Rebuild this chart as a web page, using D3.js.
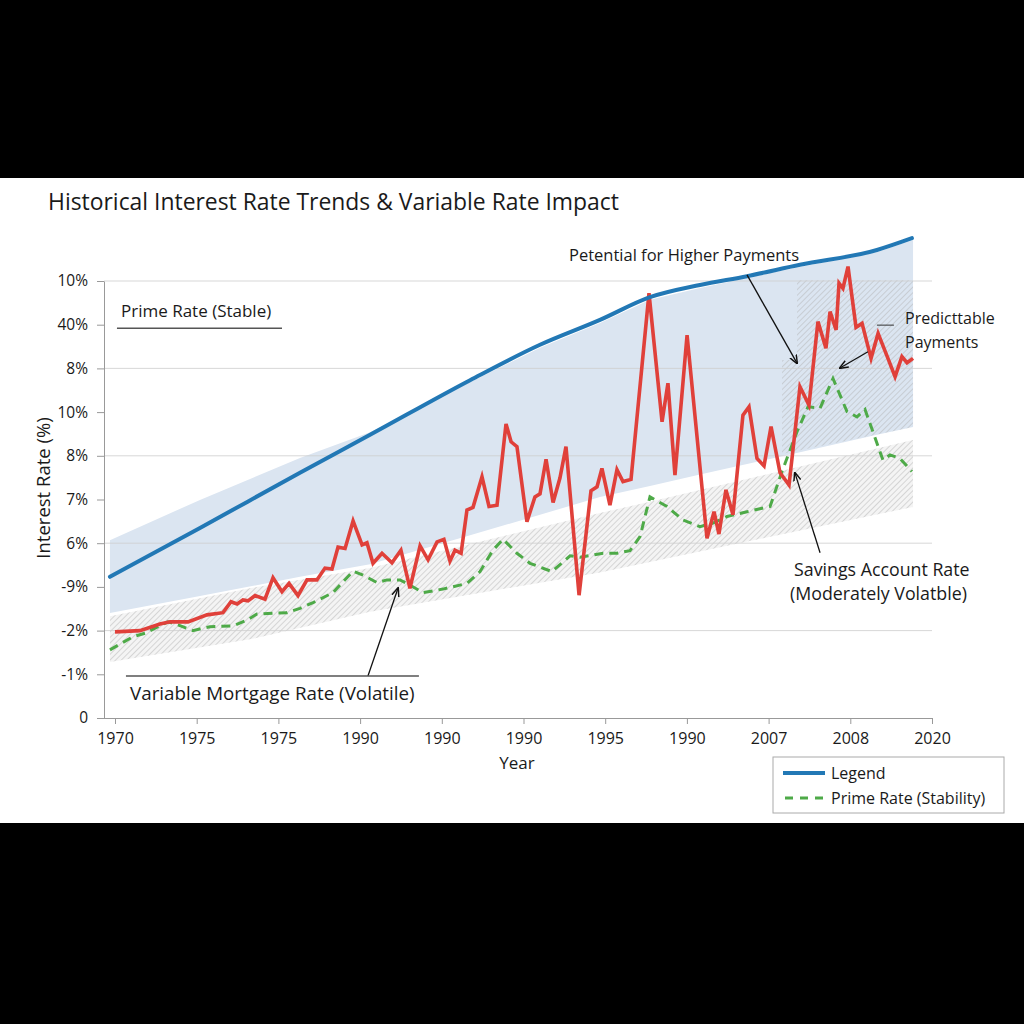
<!DOCTYPE html>
<html>
<head>
<meta charset="utf-8">
<script src="https://cdn.jsdelivr.net/npm/d3@7"></script>
<style>
  body { margin: 0; background: #000; }
  svg { display: block; }
  text { font-family: "Open Sans", "Noto Sans", sans-serif; fill: #1a1a1a; }
</style>
</head>
<body>
<svg id="chart" width="1024" height="1024"></svg>
<script>
// tick labels as printed on the chart
var xTickLabels = ["1970","1975","1975","1990","1990","1990","1995","1990","2007","2008","2020"];
var yTickLabels = ["0","-1%","-2%","-9%","6%","7%","8%","10%","8%","40%","10%"];

// variable mortgage rate (red), [year, value]
var mortgageYears = [1970.00,1971.53,1972.75,1973.37,1974.47,1975.63,1976.61,1977.10,1977.47,1977.83,1978.14,1978.57,1979.18,1979.67,1980.22,1980.65,1981.20,1981.75,1982.36,1982.85,1983.28,1983.65,1984.08,1984.57,1985.12,1985.42,1985.79,1986.34,1986.95,1987.50,1988.05,1988.67,1989.16,1989.71,1990.13,1990.50,1990.81,1991.18,1991.54,1991.91,1992.46,1992.89,1993.38,1993.93,1994.24,1994.60,1995.21,1995.70,1996.01,1996.38,1996.81,1997.23,1997.60,1998.40,1999.13,1999.50,1999.80,2000.29,2000.72,2001.09,2001.58,2002.68,2003.48,2003.84,2004.27,2005.01,2006.23,2006.66,2006.96,2007.39,2007.82,2008.43,2008.80,2009.29,2009.72,2010.15,2010.70,2011.25,2011.92,2012.47,2013.02,2013.51,2013.76,2014.13,2014.31,2014.55,2014.86,2015.35,2015.72,2016.27,2016.70,2017.25,2017.74,2018.16,2018.47,2018.84];
var mortgageRates = [1.97,2.00,2.15,2.20,2.20,2.36,2.41,2.66,2.61,2.70,2.68,2.80,2.72,3.21,2.89,3.08,2.80,3.16,3.16,3.43,3.41,3.91,3.88,4.51,3.96,4.01,3.54,3.77,3.55,3.84,2.97,3.94,3.62,4.03,4.09,3.59,3.84,3.77,4.76,4.82,5.52,4.84,4.87,6.73,6.32,6.21,4.49,5.06,5.13,5.92,4.93,5.49,6.21,2.81,5.20,5.29,5.71,4.87,5.68,5.41,5.46,9.72,6.78,7.66,5.56,8.76,4.11,4.72,4.21,5.22,4.65,6.93,7.12,5.94,5.77,6.67,5.61,5.33,7.58,7.16,9.07,8.46,9.30,8.88,9.95,9.83,10.33,8.94,9.03,8.23,8.80,8.28,7.81,8.27,8.13,8.23];

// prime rate, stability (green dashed)
var primeYears = [1969.69,1971.10,1971.84,1972.63,1973.24,1973.86,1974.77,1975.81,1977.22,1978.08,1978.69,1979.67,1980.53,1981.32,1982.12,1983.34,1984.57,1985.18,1986.03,1986.65,1987.44,1988.05,1988.85,1990.07,1991.54,1992.34,1993.13,1993.75,1994.60,1995.40,1996.74,1997.85,1998.46,1999.87,2000.72,2001.52,2002.13,2002.74,2003.78,2004.76,2005.80,2006.60,2007.45,2008.68,2010.09,2010.82,2011.74,2012.41,2013.15,2013.94,2014.80,2015.41,2015.90,2017.00,2017.43,2018.04,2018.77];
var primeRates = [1.56,1.86,1.94,2.09,2.20,2.13,2.00,2.09,2.11,2.24,2.38,2.40,2.41,2.51,2.64,2.87,3.36,3.27,3.10,3.16,3.16,3.04,2.87,2.95,3.08,3.35,3.84,4.09,3.77,3.54,3.35,3.71,3.68,3.77,3.77,3.83,4.15,5.06,4.84,4.53,4.38,4.46,4.61,4.72,4.84,5.64,6.55,7.12,7.09,7.77,7.01,6.89,7.06,5.90,6.02,5.94,5.64];

// "legend" trend (blue)
var trendYears = [1969.69,1975.20,1981.32,1985.61,1991.73,1996.01,1999.68,2002.74,2005.80,2008.68,2011.92,2016.63,2018.77];
var trendRates = [3.23,4.35,5.61,6.48,7.73,8.54,9.11,9.63,9.91,10.11,10.37,10.71,10.98];

// shaded bands [year, low, high]
var upperBand = [[1969.69,2.40,4.07],[1975.20,2.79,4.99],[1981.32,3.23,5.95],[1985.61,3.52,6.54],[1991.73,4.18,7.69],[1996.01,4.65,8.47],[1999.68,5.06,9.04],[2002.74,5.31,9.57],[2005.80,5.57,9.84],[2008.68,5.81,10.07],[2011.92,6.08,10.32],[2016.63,6.48,10.66],[2018.84,6.66,10.94]];
var lowerBand = [[1969.69,1.28,2.33],[1978.26,1.80,2.97],[1985.61,2.43,3.43],[1999.68,3.33,4.69],[2002.74,3.57,4.95],[2018.84,4.83,6.36]];
var payBox = [[2011.74,10.02],[2018.84,10.02],[2018.84,6.66],[2010.82,6.04],[2010.82,8.19],[2011.74,8.19]];

var gridValues = [2,4,6,8,10];

var svg = d3.select("#chart");
svg.append("rect").attr("x",0).attr("y",178).attr("width",1024).attr("height",645).attr("fill","#fff");

var x = d3.scaleLinear().domain([1970,2020]).range([115,932]);
var y = d3.scaleLinear().domain([0,10]).range([718,281]);

var defs = svg.append("defs");
var pat = defs.append("pattern").attr("id","hatch").attr("patternUnits","userSpaceOnUse")
    .attr("width",4).attr("height",4).attr("patternTransform","rotate(45)");
pat.append("line").attr("x1",0).attr("y1",0).attr("x2",0).attr("y2",4)
    .attr("stroke","#b0b0b0").attr("stroke-width",0.9);

var arrow = defs.append("marker").attr("id","arr").attr("viewBox","0 0 10 10")
    .attr("refX",9).attr("refY",5).attr("markerWidth",9).attr("markerHeight",9)
    .attr("orient","auto-start-reverse").attr("markerUnits","userSpaceOnUse");
arrow.append("path").attr("d","M0,1 L10,5 L0,9").attr("fill","none").attr("stroke","#111").attr("stroke-width",1.6);

// bands
var band = d3.area().x(d => x(d[0])).y0(d => y(d[1])).y1(d => y(d[2]));
svg.append("path").datum(upperBand).attr("d",band).attr("fill","#dbe5f1");
svg.append("path").datum(lowerBand).attr("d",band).attr("fill","#f4f4f4");
svg.append("path").datum(lowerBand).attr("d",band).attr("fill","url(#hatch)");
var poly = d3.line().x(d => x(d[0])).y(d => y(d[1]));
svg.append("path").attr("d",poly(payBox) + "Z").attr("fill","url(#hatch)");

// gridlines
svg.append("g").selectAll("line").data(gridValues).enter().append("line")
    .attr("x1",104).attr("x2",932)
    .attr("y1",d => y(d)).attr("y2",d => y(d))
    .attr("stroke","#cfcfcf").attr("stroke-width",1).attr("opacity",0.8);

// axes
var xAxis = d3.axisBottom(x).tickValues(d3.range(1970,2021,5))
    .tickFormat((d,i) => xTickLabels[i]).tickSize(6).tickSizeOuter(0);
var gx = svg.append("g").attr("transform","translate(0,718)").call(xAxis);
gx.select(".domain").attr("d","M104,0.5H932").attr("stroke","#999");
gx.selectAll(".tick line").attr("stroke","#999");
gx.selectAll("text").attr("font-size",16).attr("dy","1.05em").style("font-family","'Open Sans', sans-serif").attr("fill","#1a1a1a");

var yAxis = d3.axisLeft(y).tickValues(d3.range(0,11))
    .tickFormat(d => yTickLabels[d]).tickSize(7).tickSizeOuter(0);
var gy = svg.append("g").attr("transform","translate(104,0)").call(yAxis);
gy.select(".domain").attr("stroke","#999");
gy.selectAll(".tick line").attr("stroke","#999");
gy.selectAll("text").attr("font-size",15.5).attr("x",-16).style("font-family","'Open Sans', sans-serif").attr("fill","#1a1a1a");

// lines
var line = d3.line().x(d => x(d[0])).y(d => y(d[1]));
svg.append("path").datum(d3.zip(primeYears, primeRates)).attr("d",line)
    .attr("fill","none").attr("stroke","#4eaa48").attr("stroke-width",3).attr("stroke-dasharray","9,6");
svg.append("path").datum(d3.zip(mortgageYears, mortgageRates)).attr("d",line)
    .attr("fill","none").attr("stroke","#e0403a").attr("stroke-width",3.6).attr("stroke-linejoin","miter");
svg.append("path").datum(d3.zip(trendYears, trendRates)).attr("d",line.curve(d3.curveMonotoneX))
    .attr("fill","none").attr("stroke","#2278b5").attr("stroke-width",4).attr("stroke-linecap","round");

// annotations
var arrows = [
  [[2008.68,10.14],[2011.74,8.12]],
  [[2016.08,8.38],[2014.37,8.01]],
  [[2013.15,3.78],[2011.61,5.61]],
  [[1985.48,0.96],[1987.32,2.97]]
];
svg.append("g").selectAll("line").data(arrows).enter().append("line")
    .attr("x1",d => x(d[0][0])).attr("y1",d => y(d[0][1]))
    .attr("x2",d => x(d[1][0])).attr("y2",d => y(d[1][1]))
    .attr("stroke","#111").attr("stroke-width",1.3).attr("marker-end","url(#arr)");

var rules = [
  [1970.12,1980.22,8.92,"#555",1.6],
  [1970.67,1988.60,0.96,"#555",1.6],
  [2016.63,2017.67,8.99,"#333",1]
];
svg.append("g").selectAll("line").data(rules).enter().append("line")
    .attr("x1",d => x(d[0])).attr("x2",d => x(d[1]))
    .attr("y1",d => y(d[2])).attr("y2",d => y(d[2]))
    .attr("stroke",d => d[3]).attr("stroke-width",d => d[4]);

var labels = [
  {t:"Prime Rate (Stable)", x:121, y:310, s:17},
  {t:"Variable Mortgage Rate (Volatile)", x:130, y:693, s:18.8},
  {t:"Petential for Higher Payments", x:569, y:254, s:16.5},
  {t:"Predicttable", x:905, y:318, s:16},
  {t:"Payments", x:905, y:342, s:16},
  {t:"Savings Account Rate", x:794, y:569, s:17.8},
  {t:"(Moderately Volatble)", x:790, y:593, s:17.8}
];
svg.append("g").selectAll("text").data(labels).enter().append("text")
    .attr("x",d => d.x).attr("y",d => d.y).attr("dominant-baseline","central")
    .attr("font-size",d => d.s).text(d => d.t);

// titles
svg.append("text").attr("x",48).attr("y",201).attr("dominant-baseline","central")
    .attr("font-size",22.9).text("Historical Interest Rate Trends & Variable Rate Impact");
svg.append("text").attr("x",517).attr("y",762).attr("text-anchor","middle").attr("dominant-baseline","central")
    .attr("font-size",17).text("Year");
svg.append("text").attr("transform","translate(42,488) rotate(-90)").attr("text-anchor","middle")
    .attr("dominant-baseline","central").attr("font-size",18.5).text("Interest Rate (%)");

// legend
var lg = svg.append("g");
lg.append("rect").attr("x",773).attr("y",757).attr("width",231).attr("height",56)
    .attr("fill","#fff").attr("stroke","#aaa").attr("stroke-width",1);
lg.append("line").attr("x1",783).attr("x2",825).attr("y1",773).attr("y2",773)
    .attr("stroke","#2278b5").attr("stroke-width",4);
lg.append("line").attr("x1",785).attr("x2",825).attr("y1",798).attr("y2",798)
    .attr("stroke","#4eaa48").attr("stroke-width",3).attr("stroke-dasharray","8,7");
lg.append("text").attr("x",831).attr("y",773).attr("dominant-baseline","central").attr("font-size",16).text("Legend");
lg.append("text").attr("x",831).attr("y",798).attr("dominant-baseline","central").attr("font-size",16).text("Prime Rate (Stability)");
</script>
</body>
</html>
